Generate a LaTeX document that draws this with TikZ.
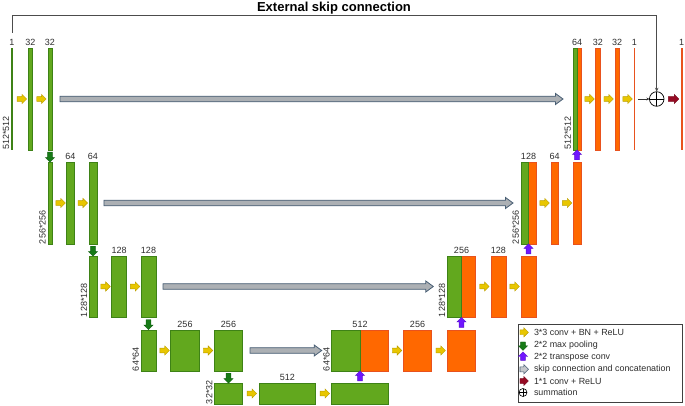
\documentclass[tikz,border=0pt]{standalone}
\usepackage{fontspec}
\setmainfont{Liberation Sans}
\usetikzlibrary{arrows.meta, positioning, calc, shapes.arrows}

\definecolor{ugreen}{RGB}{98,168,30}
\definecolor{ugreenline}{RGB}{62,130,22}
\definecolor{uorange}{RGB}{255,104,0}
\definecolor{uorangeline}{RGB}{232,82,30}
\definecolor{convyellow}{RGB}{232,198,0}
\definecolor{pooldark}{RGB}{22,122,22}
\definecolor{upblue}{RGB}{112,22,255}
\definecolor{skipfill}{RGB}{172,176,180}
\definecolor{skipline}{RGB}{72,94,116}
\definecolor{outred}{RGB}{150,10,35}
\definecolor{lbltext}{RGB}{45,45,45}

% long skip arrow: from node, gap, to node, gap
\newcommand{\skiparrow}[4]{%
  \draw[skipbody] let \p1=([xshift=#2]#1.east), \p2=([xshift=-#4]#3.west) in
    (\x1,\y1+2.8pt) -- (\x2-7.5pt,\y1+2.8pt) -- (\x2-7.5pt,\y1+5.5pt) -- (\x2,\y1)
    -- (\x2-7.5pt,\y1-5.5pt) -- (\x2-7.5pt,\y1-2.8pt) -- (\x1,\y1-2.8pt) -- cycle;}

\begin{document}
\begin{tikzpicture}[
	x=1pt, y=-1pt,
	every node/.style={inner sep=0pt, outer sep=0pt, text=lbltext, font=\fontsize{9}{10}\selectfont},
	label distance=2.5pt,
	gbar/.style={rectangle, fill=ugreen, draw=ugreenline, line width=0.5pt},
	obar/.style={rectangle, fill=uorange, draw=uorangeline, line width=0.5pt},
	gline/.style={rectangle, fill=ugreenline, minimum width=1.8pt},
	oline/.style={rectangle, fill=uorangeline, minimum width=1.6pt},
	row1/.style={minimum height=102pt},
	row2/.style={minimum height=82pt},
	row3/.style={minimum height=61pt},
	row4/.style={minimum height=41pt},
	row5/.style={minimum height=21pt},
	dimlbl/.style={rotate=90, anchor=south west},
	blockarrow/.style={single arrow, single arrow head extend=2.2pt, inner sep=2.2pt, line width=0.4pt, minimum height=9.5pt},
	convarrow/.style={blockarrow, fill=convyellow, draw=convyellow!80!black},
	poolarrow/.style={blockarrow, fill=pooldark, draw=pooldark!80!black, shape border rotate=270, minimum height=10pt},
	uparrow/.style={blockarrow, fill=upblue, draw=upblue!80!black, shape border rotate=90, minimum height=10pt},
	outarrow/.style={blockarrow, fill=outred, draw=outred!80!black, minimum height=10.5pt},
	skipbody/.style={fill=skipfill, draw=skipline, line width=0.8pt, line join=miter},
	sumnode/.style={circle, draw=black, line width=0.7pt, minimum size=14.6pt,
		path picture={\draw[line width=0.7pt] (path picture bounding box.north) -- (path picture bounding box.south)
			(path picture bounding box.west) -- (path picture bounding box.east);}},
	extline/.style={draw=black!70, line width=0.8pt, -{Stealth[length=4pt, width=3.5pt]}},
	legendtext/.style={anchor=west, font=\fontsize{8.9}{10}\selectfont}
	]
	\useasboundingbox (0,0) rectangle (685,406);

	% encoder
	\node[gline, row1, label={above:1}] (e11) at (12,99) {};
	\node[gbar, row1, minimum width=4.4pt, label={above:32}] (e12) at (30.5,99) {};
	\node[gbar, row1, minimum width=4.4pt, label={above:32}] (e13) at (50,99) {};
	\node[gbar, row2, minimum width=4.4pt] (e21) at (50,203) {};
	\node[gbar, row2, minimum width=7.5pt, label={above:64}] (e22) at (70.3,203) {};
	\node[gbar, row2, minimum width=7.8pt, label={above:64}] (e23) at (93,203) {};
	\node[gbar, row3, minimum width=7.8pt] (e31) at (93,286.5) {};
	\node[gbar, row3, minimum width=15pt, label={above:128}] (e32) at (119.2,286.5) {};
	\node[gbar, row3, minimum width=15pt, label={above:128}] (e33) at (148.5,286.5) {};
	\node[gbar, row4, minimum width=15pt] (e41) at (148.5,350.5) {};
	\node[gbar, row4, minimum width=28.6pt, label={above:256}] (e42) at (185,350.5) {};
	\node[gbar, row4, minimum width=28.4pt, label={above:256}] (e43) at (228.5,350.5) {};

	% bottom
	\node[gbar, row5, minimum width=28pt] (m1) at (228.5,393.5) {};
	\node[gbar, row5, minimum width=56.7pt, label={above:512}] (m2) at (287.3,393.5) {};
	\node[gbar, row5, minimum width=56.6pt] (m3) at (360,393.5) {};

	% decoder
	\node[obar, row4, minimum width=56.6pt, label={above:512}] (d41) at (360,350.5) {};
	\node[gbar, row4, minimum width=28.3pt, anchor=north west] (d41g) at (d41.north west) {};
	\node[obar, row4, minimum width=28.4pt, label={above:256}] (d42) at (417.5,350.5) {};
	\node[obar, row4, minimum width=28.4pt] (d43) at (461.5,350.5) {};
	\node[obar, row3, minimum width=28.4pt, label={above:256}] (d31) at (461.5,286.5) {};
	\node[gbar, row3, minimum width=14.2pt, anchor=north west] (d31g) at (d31.north west) {};
	\node[obar, row3, minimum width=15pt, label={above:128}] (d32) at (498.3,286.5) {};
	\node[obar, row3, minimum width=15pt] (d33) at (528.5,286.5) {};
	\node[obar, row2, minimum width=15pt, label={above:128}] (d21) at (528.5,203) {};
	\node[gbar, row2, minimum width=7.5pt, anchor=north west] (d21g) at (d21.north west) {};
	\node[obar, row2, minimum width=7.8pt, label={above:64}] (d22) at (554.7,203) {};
	\node[obar, row2, minimum width=7.6pt] (d23) at (577,203) {};
	\node[obar, row1, minimum width=8pt, label={above:64}] (d11) at (577,99) {};
	\node[gbar, row1, minimum width=4pt, anchor=north west] (d11g) at (d11.north west) {};
	\node[obar, row1, minimum width=4.3pt, label={above:32}] (d12) at (597.8,99) {};
	\node[obar, row1, minimum width=4.3pt, label={above:32}] (d13) at (617.2,99) {};
	\node[oline, row1, label={above:1}] (d14) at (634.3,99) {};
	\node[sumnode] (sum) at (656.7,99) {};
	\node[oline, row1, label={above:1}] (out) at (681.7,99) {};

	% sizes
	\node[dimlbl] at ([xshift=-2pt]e11.south west) {512*512};
	\node[dimlbl] at ([xshift=-2pt]e21.south west) {256*256};
	\node[dimlbl] at ([xshift=-2pt]e31.south west) {128*128};
	\node[dimlbl] at ([xshift=-2pt]e41.south west) {64*64};
	\node[dimlbl] at ([xshift=-2pt]m1.south west) {32*32};
	\node[dimlbl] at ([xshift=-2pt]d41.south west) {64*64};
	\node[dimlbl] at ([xshift=-2pt]d31.south west) {128*128};
	\node[dimlbl] at ([xshift=-2pt]d21.south west) {256*256};
	\node[dimlbl] at ([xshift=-2pt]d11.south west) {512*512};

	% conv arrows
	\node[convarrow] at ($(e11.east)!0.5!(e12.west)$) {};
	\node[convarrow] at ($(e12.east)!0.5!(e13.west)$) {};
	\node[convarrow] at ($(e21.east)!0.5!(e22.west)$) {};
	\node[convarrow] at ($(e22.east)!0.5!(e23.west)$) {};
	\node[convarrow] at ($(e31.east)!0.5!(e32.west)$) {};
	\node[convarrow] at ($(e32.east)!0.5!(e33.west)$) {};
	\node[convarrow] at ($(e41.east)!0.5!(e42.west)$) {};
	\node[convarrow] at ($(e42.east)!0.5!(e43.west)$) {};
	\node[convarrow] at ($(m1.east)!0.5!(m2.west)$) {};
	\node[convarrow] at ($(m2.east)!0.5!(m3.west)$) {};
	\node[convarrow] at ($(d41.east)!0.5!(d42.west)$) {};
	\node[convarrow] at ($(d42.east)!0.5!(d43.west)$) {};
	\node[convarrow] at ($(d31.east)!0.5!(d32.west)$) {};
	\node[convarrow] at ($(d32.east)!0.5!(d33.west)$) {};
	\node[convarrow] at ($(d21.east)!0.5!(d22.west)$) {};
	\node[convarrow] at ($(d22.east)!0.5!(d23.west)$) {};
	\node[convarrow] at ($(d11.east)!0.5!(d12.west)$) {};
	\node[convarrow] at ($(d12.east)!0.5!(d13.west)$) {};
	\node[convarrow] at ($(d13.east)!0.5!(d14.west)$) {};

	% pooling and up-conv
	\node[poolarrow] at ($(e13.south)!0.5!(e21.north)$) {};
	\node[poolarrow] at ($(e23.south)!0.5!(e31.north)$) {};
	\node[poolarrow] at ($(e33.south)!0.5!(e41.north)$) {};
	\node[poolarrow] at ($(e43.south)!0.5!(m1.north)$) {};
	\node[uparrow] at ($(m3.north)!0.5!(d41.south)$) {};
	\node[uparrow] at ($(d43.north)!0.5!(d31.south)$) {};
	\node[uparrow] at ($(d33.north)!0.5!(d21.south)$) {};
	\node[uparrow] at ($(d23.north)!0.5!(d11.south)$) {};

	% skip connections
	\skiparrow{e13}{7.8pt}{d11}{10pt}
	\skiparrow{e23}{7pt}{d21}{8pt}
	\skiparrow{e33}{7pt}{d31}{14pt}
	\skiparrow{e43}{7.3pt}{d41}{10pt}

	% output
	\draw[black!80, line width=0.7pt, -{Stealth[length=3pt, width=3pt]}, shorten <=3pt] (d14.east) -- (sum.west);
	\node[outarrow] at ($(sum.east)!0.5!(out.west)$) {};

	% external skip
	\node[anchor=base, text=black, font=\fontsize{13}{15}\selectfont\bfseries] (title) at (334,11.5) {External skip connection};
	\coordinate (extstart) at ([yshift=15pt]e11.north);
	\draw[extline] (extstart) -- ++(0,-17.3) -| (sum.north);

	% legend
	\node[draw=black!75, line width=0.8pt, minimum width=164pt, minimum height=78pt, anchor=north west] (legend) at (518,324) {};
	\node[convarrow, minimum height=8.5pt] (k1) at (523,332.3) {};
	\node[legendtext] at (534,332.3) {3*3 conv + BN + ReLU};
	\node[poolarrow, minimum height=8.5pt] (k2) at (523,345) {};
	\node[legendtext] at (534,345) {2*2 max pooling};
	\node[uparrow, minimum height=8.5pt] (k3) at (523,357.3) {};
	\node[legendtext] at (534,357.3) {2*2 transpose conv};
	\node[blockarrow, fill=skipfill!70!white, draw=skipline, line width=0.6pt, minimum height=8.5pt] (k4) at (523,369.3) {};
	\node[legendtext] at (534,369.3) {skip connection and concatenation};
	\node[outarrow, minimum height=8.5pt] (k5) at (523,381) {};
	\node[legendtext] at (534,381) {1*1 conv + ReLU};
	\node[sumnode, minimum size=8pt, line width=0.6pt] (k6) at (523,392.5) {};
	\node[legendtext] at (534,392.5) {summation};
\end{tikzpicture}
\end{document}
